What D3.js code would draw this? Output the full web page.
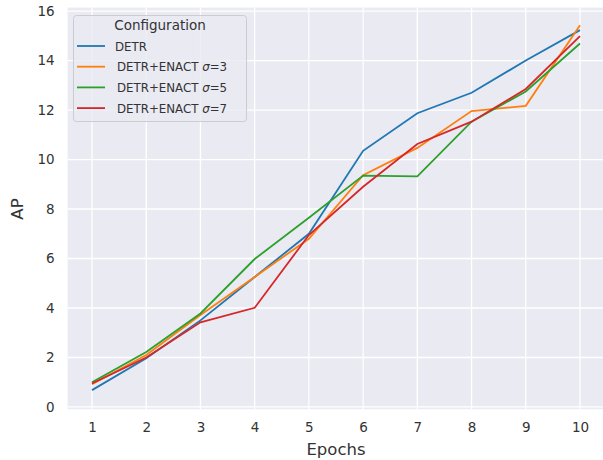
<!DOCTYPE html>
<html>
<head>
<meta charset="utf-8">
<script src="https://cdn.jsdelivr.net/npm/d3@7"></script>
<style>
  body { margin: 0; background: #fff; }
  svg text { font-family: "DejaVu Sans", sans-serif; fill: #333; }
</style>
</head>
<body>
<svg id="chart"></svg>
<script>
// Data
var epochs = [1, 2, 3, 4, 5, 6, 7, 8, 9, 10];
var detr   = [0.68, 1.97, 3.50, 5.25, 7.00, 10.35, 11.87, 12.70, 14.00, 15.23];
var sigma3 = [0.92, 2.10, 3.72, 5.25, 6.80, 9.37, 10.47, 11.96, 12.17, 15.43];
var sigma5 = [1.00, 2.22, 3.78, 5.98, 7.65, 9.35, 9.32, 11.53, 12.75, 14.69];
var sigma7 = [0.95, 2.00, 3.42, 4.01, 6.95, 8.90, 10.63, 11.53, 12.85, 14.99];
var seriesNames = ['DETR', 'σ=3', 'σ=5', 'σ=7'];
var yTicks = [0, 2, 4, 6, 8, 10, 12, 14, 16];

var series = [
  {name: seriesNames[0], values: detr,   color: '#1f77b4'},
  {name: seriesNames[1], values: sigma3, color: '#ff7f0e'},
  {name: seriesNames[2], values: sigma5, color: '#2ca02c'},
  {name: seriesNames[3], values: sigma7, color: '#d62728'}
];

var width = 603, height = 460;
var plotLeft = 67.6, plotRight = 604.4, plotTop = 7.6, plotBottom = 409.2;

var svg = d3.select('#chart')
  .attr('width', width)
  .attr('height', height);

var x = d3.scaleLinear().domain([0.55, 10.45]).range([plotLeft, plotRight]);
var y = d3.scaleLinear().domain([-0.09, 16.14]).range([plotBottom, plotTop]);

// darkgrid background
svg.append('rect')
  .attr('x', plotLeft).attr('y', plotTop)
  .attr('width', plotRight - plotLeft).attr('height', plotBottom - plotTop)
  .attr('fill', '#eaeaf2');

// grid lines
var grid = svg.append('g');
grid.selectAll('line.v')
  .data(epochs).enter().append('line')
  .attr('x1', function(d){ return x(d); })
  .attr('x2', function(d){ return x(d); })
  .attr('y1', plotTop).attr('y2', plotBottom)
  .attr('stroke', '#fff').attr('stroke-width', 1.3);
grid.selectAll('line.h')
  .data(yTicks).enter().append('line')
  .attr('y1', function(d){ return y(d); })
  .attr('y2', function(d){ return y(d); })
  .attr('x1', plotLeft).attr('x2', plotRight)
  .attr('stroke', '#fff').attr('stroke-width', 1.3);

// axes, no tick marks or spines
svg.append('g')
  .attr('transform', 'translate(0,' + plotBottom + ')')
  .call(d3.axisBottom(x).tickValues(epochs).tickSize(0).tickPadding(13).tickFormat(d3.format('d')));
svg.append('g')
  .attr('transform', 'translate(' + plotLeft + ',0)')
  .call(d3.axisLeft(y).tickValues(yTicks).tickSize(0).tickPadding(13).tickFormat(d3.format('d')));
svg.selectAll('.domain').remove();
svg.selectAll('.tick text')
  .style('font-family', '"DejaVu Sans", sans-serif')
  .style('font-size', '13.5px')
  .attr('fill', '#333');

// axis labels
svg.append('text')
  .attr('x', x(5.5))
  .attr('y', 455)
  .attr('text-anchor', 'middle')
  .style('font-size', '16.5px')
  .text('Epochs');
svg.append('text')
  .attr('transform', 'translate(23,' + y(8) + ') rotate(-90)')
  .attr('text-anchor', 'middle')
  .style('font-size', '16.5px')
  .text('AP');

// lines
var line = d3.line()
  .x(function(d, i){ return x(epochs[i]); })
  .y(function(d){ return y(d); });

svg.append('g').selectAll('path')
  .data(series).enter().append('path')
  .attr('d', function(d){ return line(d.values); })
  .attr('fill', 'none')
  .attr('stroke', function(d){ return d.color; })
  .attr('stroke-width', 1.8);

// legend
var legend = svg.append('g');
legend.append('rect')
  .attr('x', 73.5).attr('y', 15.5)
  .attr('width', 173).attr('height', 106)
  .attr('rx', 3)
  .attr('fill', 'rgba(234,234,242,0.8)')
  .attr('stroke', '#cccccc');
legend.append('text')
  .attr('x', 160).attr('y', 30)
  .attr('text-anchor', 'middle')
  .style('font-size', '13.5px')
  .text('Configuration');

var items = legend.selectAll('g.item')
  .data(series).enter().append('g')
  .attr('transform', function(d, i){ return 'translate(0,' + (46 + i * 20.7) + ')'; });
items.append('line')
  .attr('x1', 77).attr('x2', 105)
  .attr('stroke', function(d){ return d.color; })
  .attr('stroke-width', 1.8);
var lt = items.append('text')
  .attr('x', function(d, i){ return i === 0 ? 115 : 117; })
  .attr('y', 4.5)
  .style('font-size', '11.8px');
lt.each(function(d, i){
  var t = d3.select(this);
  if (i === 0) { t.text(d.name); return; }
  t.append('tspan').text('DETR+ENACT ');
  t.append('tspan').style('font-style', 'italic').text('σ');
  t.append('tspan').text(d.name.slice(1));
});
</script>
</body>
</html>
